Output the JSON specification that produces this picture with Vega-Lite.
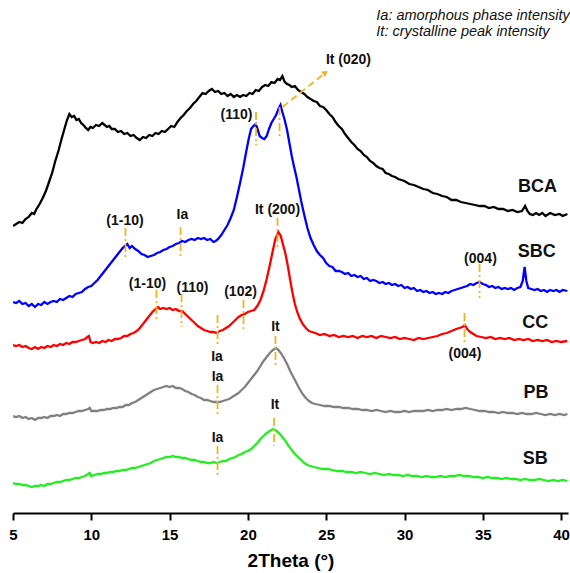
{
"$schema":"https://vega.github.io/schema/vega-lite/v6.json",
"width":555,"height":513,
"autosize":{"type":"none"},
"padding":{"left":13,"top":0,"right":2,"bottom":60},
"background":"white",
"config":{"view":{"stroke":null},"font":"Liberation Sans"},
"datasets":{
"curves":[
{"s":"BCA","x":5.0,"y":287},{"s":"BCA","x":5.2,"y":289},{"s":"BCA","x":5.4,"y":291},{"s":"BCA","x":5.6,"y":290},{"s":"BCA","x":5.8,"y":294},{"s":"BCA","x":6.0,"y":296},{"s":"BCA","x":6.2,"y":300},{"s":"BCA","x":6.35,"y":299},{"s":"BCA","x":6.5,"y":304},{"s":"BCA","x":6.7,"y":309},{"s":"BCA","x":6.9,"y":315},{"s":"BCA","x":7.1,"y":322},{"s":"BCA","x":7.3,"y":331},{"s":"BCA","x":7.5,"y":340},{"s":"BCA","x":7.7,"y":352},{"s":"BCA","x":7.9,"y":362},{"s":"BCA","x":8.1,"y":374},{"s":"BCA","x":8.3,"y":385},{"s":"BCA","x":8.45,"y":393},{"s":"BCA","x":8.6,"y":399},{"s":"BCA","x":8.75,"y":396},{"s":"BCA","x":8.9,"y":397},{"s":"BCA","x":9.05,"y":393},{"s":"BCA","x":9.2,"y":394},{"s":"BCA","x":9.35,"y":390},{"s":"BCA","x":9.5,"y":388},{"s":"BCA","x":9.65,"y":385},{"s":"BCA","x":9.8,"y":383},{"s":"BCA","x":9.95,"y":386},{"s":"BCA","x":10.1,"y":385},{"s":"BCA","x":10.3,"y":388},{"s":"BCA","x":10.5,"y":387},{"s":"BCA","x":10.7,"y":390},{"s":"BCA","x":10.85,"y":388},{"s":"BCA","x":11.0,"y":386},{"s":"BCA","x":11.15,"y":387},{"s":"BCA","x":11.3,"y":384},{"s":"BCA","x":11.5,"y":384},{"s":"BCA","x":11.7,"y":381},{"s":"BCA","x":11.9,"y":382},{"s":"BCA","x":12.1,"y":379},{"s":"BCA","x":12.3,"y":380},{"s":"BCA","x":12.5,"y":377},{"s":"BCA","x":12.7,"y":378},{"s":"BCA","x":12.9,"y":375},{"s":"BCA","x":13.1,"y":373},{"s":"BCA","x":13.3,"y":376},{"s":"BCA","x":13.5,"y":375},{"s":"BCA","x":13.7,"y":378},{"s":"BCA","x":13.9,"y":377},{"s":"BCA","x":14.1,"y":380},{"s":"BCA","x":14.3,"y":379},{"s":"BCA","x":14.5,"y":382},{"s":"BCA","x":14.7,"y":381},{"s":"BCA","x":14.9,"y":384},{"s":"BCA","x":15.1,"y":387},{"s":"BCA","x":15.3,"y":386},{"s":"BCA","x":15.5,"y":391},{"s":"BCA","x":15.7,"y":395},{"s":"BCA","x":15.9,"y":398},{"s":"BCA","x":16.1,"y":402},{"s":"BCA","x":16.3,"y":405},{"s":"BCA","x":16.5,"y":409},{"s":"BCA","x":16.7,"y":412},{"s":"BCA","x":16.9,"y":416},{"s":"BCA","x":17.1,"y":420},{"s":"BCA","x":17.3,"y":419},{"s":"BCA","x":17.5,"y":422},{"s":"BCA","x":17.7,"y":424},{"s":"BCA","x":17.9,"y":421},{"s":"BCA","x":18.1,"y":422},{"s":"BCA","x":18.3,"y":419},{"s":"BCA","x":18.5,"y":420},{"s":"BCA","x":18.7,"y":417},{"s":"BCA","x":18.9,"y":419},{"s":"BCA","x":19.1,"y":416},{"s":"BCA","x":19.3,"y":418},{"s":"BCA","x":19.5,"y":416},{"s":"BCA","x":19.7,"y":418},{"s":"BCA","x":19.9,"y":417},{"s":"BCA","x":20.1,"y":420},{"s":"BCA","x":20.3,"y":419},{"s":"BCA","x":20.5,"y":423},{"s":"BCA","x":20.7,"y":422},{"s":"BCA","x":20.9,"y":426},{"s":"BCA","x":21.1,"y":428},{"s":"BCA","x":21.3,"y":427},{"s":"BCA","x":21.5,"y":431},{"s":"BCA","x":21.7,"y":430},{"s":"BCA","x":21.9,"y":434},{"s":"BCA","x":22.05,"y":433},{"s":"BCA","x":22.2,"y":437},{"s":"BCA","x":22.35,"y":431},{"s":"BCA","x":22.5,"y":429},{"s":"BCA","x":22.65,"y":428},{"s":"BCA","x":22.8,"y":426},{"s":"BCA","x":23.0,"y":427},{"s":"BCA","x":23.2,"y":423},{"s":"BCA","x":23.4,"y":421},{"s":"BCA","x":23.6,"y":419},{"s":"BCA","x":23.8,"y":416},{"s":"BCA","x":24.0,"y":414},{"s":"BCA","x":24.2,"y":412},{"s":"BCA","x":24.4,"y":411},{"s":"BCA","x":24.6,"y":407},{"s":"BCA","x":24.8,"y":406},{"s":"BCA","x":25.0,"y":403},{"s":"BCA","x":25.2,"y":399},{"s":"BCA","x":25.4,"y":396},{"s":"BCA","x":25.6,"y":391},{"s":"BCA","x":25.8,"y":387},{"s":"BCA","x":26.0,"y":384},{"s":"BCA","x":26.2,"y":379},{"s":"BCA","x":26.4,"y":375},{"s":"BCA","x":26.6,"y":371},{"s":"BCA","x":26.8,"y":368},{"s":"BCA","x":27.0,"y":364},{"s":"BCA","x":27.2,"y":362},{"s":"BCA","x":27.4,"y":358},{"s":"BCA","x":27.6,"y":356},{"s":"BCA","x":27.8,"y":352},{"s":"BCA","x":28.0,"y":350},{"s":"BCA","x":28.2,"y":347},{"s":"BCA","x":28.4,"y":345},{"s":"BCA","x":28.6,"y":344},{"s":"BCA","x":28.8,"y":340},{"s":"BCA","x":29.0,"y":339},{"s":"BCA","x":29.2,"y":337},{"s":"BCA","x":29.4,"y":336},{"s":"BCA","x":29.6,"y":334},{"s":"BCA","x":29.8,"y":333},{"s":"BCA","x":30.0,"y":332},{"s":"BCA","x":30.3,"y":329},{"s":"BCA","x":30.6,"y":328},{"s":"BCA","x":30.9,"y":326},{"s":"BCA","x":31.2,"y":324},{"s":"BCA","x":31.5,"y":323},{"s":"BCA","x":31.8,"y":320},{"s":"BCA","x":32.1,"y":319},{"s":"BCA","x":32.4,"y":317},{"s":"BCA","x":32.7,"y":316},{"s":"BCA","x":33.0,"y":313},{"s":"BCA","x":33.3,"y":313},{"s":"BCA","x":33.6,"y":311},{"s":"BCA","x":33.9,"y":310},{"s":"BCA","x":34.2,"y":309},{"s":"BCA","x":34.5,"y":308},{"s":"BCA","x":34.8,"y":307},{"s":"BCA","x":35.1,"y":307},{"s":"BCA","x":35.4,"y":305},{"s":"BCA","x":35.7,"y":306},{"s":"BCA","x":36.0,"y":304},{"s":"BCA","x":36.3,"y":304},{"s":"BCA","x":36.6,"y":302},{"s":"BCA","x":36.9,"y":303},{"s":"BCA","x":37.2,"y":301},{"s":"BCA","x":37.5,"y":302},{"s":"BCA","x":37.7,"y":307},{"s":"BCA","x":37.85,"y":302},{"s":"BCA","x":38.0,"y":299},{"s":"BCA","x":38.2,"y":298},{"s":"BCA","x":38.4,"y":300},{"s":"BCA","x":38.6,"y":298},{"s":"BCA","x":38.8,"y":300},{"s":"BCA","x":39.0,"y":297},{"s":"BCA","x":39.3,"y":300},{"s":"BCA","x":39.6,"y":298},{"s":"BCA","x":39.9,"y":299},{"s":"BCA","x":40.1,"y":297},{"s":"BCA","x":40.4,"y":299},
{"s":"SBC","x":5.0,"y":211},{"s":"SBC","x":5.2,"y":210},{"s":"SBC","x":5.4,"y":212},{"s":"SBC","x":5.6,"y":209},{"s":"SBC","x":5.8,"y":210},{"s":"SBC","x":6.0,"y":207},{"s":"SBC","x":6.2,"y":209},{"s":"SBC","x":6.4,"y":206},{"s":"SBC","x":6.6,"y":209},{"s":"SBC","x":6.8,"y":208},{"s":"SBC","x":7.0,"y":211},{"s":"SBC","x":7.2,"y":209},{"s":"SBC","x":7.4,"y":211},{"s":"SBC","x":7.6,"y":212},{"s":"SBC","x":7.8,"y":211},{"s":"SBC","x":8.0,"y":214},{"s":"SBC","x":8.2,"y":213},{"s":"SBC","x":8.4,"y":215},{"s":"SBC","x":8.6,"y":217},{"s":"SBC","x":8.8,"y":216},{"s":"SBC","x":9.0,"y":219},{"s":"SBC","x":9.2,"y":220},{"s":"SBC","x":9.4,"y":221},{"s":"SBC","x":9.6,"y":224},{"s":"SBC","x":9.8,"y":226},{"s":"SBC","x":10.0,"y":227},{"s":"SBC","x":10.2,"y":230},{"s":"SBC","x":10.4,"y":233},{"s":"SBC","x":10.6,"y":237},{"s":"SBC","x":10.8,"y":241},{"s":"SBC","x":11.0,"y":245},{"s":"SBC","x":11.2,"y":249},{"s":"SBC","x":11.4,"y":253},{"s":"SBC","x":11.6,"y":257},{"s":"SBC","x":11.8,"y":261},{"s":"SBC","x":12.0,"y":265},{"s":"SBC","x":12.15,"y":267},{"s":"SBC","x":12.3,"y":269},{"s":"SBC","x":12.45,"y":265},{"s":"SBC","x":12.6,"y":267},{"s":"SBC","x":12.8,"y":264},{"s":"SBC","x":13.0,"y":262},{"s":"SBC","x":13.2,"y":259},{"s":"SBC","x":13.4,"y":258},{"s":"SBC","x":13.6,"y":256},{"s":"SBC","x":13.8,"y":257},{"s":"SBC","x":14.0,"y":258},{"s":"SBC","x":14.2,"y":260},{"s":"SBC","x":14.4,"y":261},{"s":"SBC","x":14.6,"y":263},{"s":"SBC","x":14.8,"y":264},{"s":"SBC","x":15.0,"y":266},{"s":"SBC","x":15.2,"y":267},{"s":"SBC","x":15.4,"y":269},{"s":"SBC","x":15.6,"y":270},{"s":"SBC","x":15.8,"y":272},{"s":"SBC","x":16.0,"y":271},{"s":"SBC","x":16.2,"y":273},{"s":"SBC","x":16.4,"y":274},{"s":"SBC","x":16.6,"y":273},{"s":"SBC","x":16.8,"y":275},{"s":"SBC","x":17.0,"y":274},{"s":"SBC","x":17.2,"y":275},{"s":"SBC","x":17.4,"y":273},{"s":"SBC","x":17.6,"y":274},{"s":"SBC","x":17.8,"y":271},{"s":"SBC","x":17.95,"y":272},{"s":"SBC","x":18.1,"y":274},{"s":"SBC","x":18.3,"y":278},{"s":"SBC","x":18.5,"y":283},{"s":"SBC","x":18.7,"y":288},{"s":"SBC","x":18.9,"y":295},{"s":"SBC","x":19.1,"y":303},{"s":"SBC","x":19.3,"y":316},{"s":"SBC","x":19.5,"y":330},{"s":"SBC","x":19.7,"y":345},{"s":"SBC","x":19.9,"y":362},{"s":"SBC","x":20.05,"y":374},{"s":"SBC","x":20.2,"y":384},{"s":"SBC","x":20.35,"y":387},{"s":"SBC","x":20.5,"y":389},{"s":"SBC","x":20.6,"y":385},{"s":"SBC","x":20.75,"y":377},{"s":"SBC","x":20.9,"y":375},{"s":"SBC","x":21.05,"y":374},{"s":"SBC","x":21.2,"y":377},{"s":"SBC","x":21.35,"y":384},{"s":"SBC","x":21.5,"y":390},{"s":"SBC","x":21.65,"y":394},{"s":"SBC","x":21.8,"y":398},{"s":"SBC","x":21.95,"y":404},{"s":"SBC","x":22.08,"y":408},{"s":"SBC","x":22.2,"y":401},{"s":"SBC","x":22.35,"y":393},{"s":"SBC","x":22.5,"y":383},{"s":"SBC","x":22.65,"y":370},{"s":"SBC","x":22.8,"y":357},{"s":"SBC","x":22.95,"y":346},{"s":"SBC","x":23.1,"y":336},{"s":"SBC","x":23.25,"y":324},{"s":"SBC","x":23.4,"y":312},{"s":"SBC","x":23.6,"y":298},{"s":"SBC","x":23.8,"y":285},{"s":"SBC","x":24.0,"y":275},{"s":"SBC","x":24.2,"y":268},{"s":"SBC","x":24.4,"y":262},{"s":"SBC","x":24.6,"y":258},{"s":"SBC","x":24.8,"y":255},{"s":"SBC","x":25.0,"y":250},{"s":"SBC","x":25.2,"y":247},{"s":"SBC","x":25.4,"y":246},{"s":"SBC","x":25.6,"y":242},{"s":"SBC","x":25.8,"y":242},{"s":"SBC","x":26.0,"y":241},{"s":"SBC","x":26.2,"y":239},{"s":"SBC","x":26.4,"y":240},{"s":"SBC","x":26.6,"y":237},{"s":"SBC","x":26.8,"y":238},{"s":"SBC","x":27.0,"y":236},{"s":"SBC","x":27.2,"y":237},{"s":"SBC","x":27.4,"y":234},{"s":"SBC","x":27.6,"y":235},{"s":"SBC","x":27.8,"y":232},{"s":"SBC","x":28.0,"y":233},{"s":"SBC","x":28.2,"y":232},{"s":"SBC","x":28.4,"y":230},{"s":"SBC","x":28.6,"y":231},{"s":"SBC","x":28.8,"y":229},{"s":"SBC","x":29.0,"y":230},{"s":"SBC","x":29.2,"y":228},{"s":"SBC","x":29.4,"y":229},{"s":"SBC","x":29.6,"y":227},{"s":"SBC","x":29.8,"y":228},{"s":"SBC","x":30.0,"y":225},{"s":"SBC","x":30.2,"y":226},{"s":"SBC","x":30.4,"y":224},{"s":"SBC","x":30.6,"y":225},{"s":"SBC","x":30.8,"y":222},{"s":"SBC","x":31.0,"y":223},{"s":"SBC","x":31.2,"y":221},{"s":"SBC","x":31.4,"y":222},{"s":"SBC","x":31.6,"y":220},{"s":"SBC","x":31.8,"y":221},{"s":"SBC","x":32.0,"y":219},{"s":"SBC","x":32.2,"y":220},{"s":"SBC","x":32.4,"y":219},{"s":"SBC","x":32.6,"y":221},{"s":"SBC","x":32.8,"y":220},{"s":"SBC","x":33.0,"y":222},{"s":"SBC","x":33.2,"y":223},{"s":"SBC","x":33.4,"y":224},{"s":"SBC","x":33.6,"y":225},{"s":"SBC","x":33.8,"y":226},{"s":"SBC","x":34.0,"y":227},{"s":"SBC","x":34.2,"y":229},{"s":"SBC","x":34.4,"y":228},{"s":"SBC","x":34.6,"y":230},{"s":"SBC","x":34.8,"y":231},{"s":"SBC","x":35.0,"y":229},{"s":"SBC","x":35.2,"y":228},{"s":"SBC","x":35.4,"y":226},{"s":"SBC","x":35.6,"y":227},{"s":"SBC","x":35.8,"y":225},{"s":"SBC","x":36.0,"y":226},{"s":"SBC","x":36.2,"y":224},{"s":"SBC","x":36.4,"y":225},{"s":"SBC","x":36.6,"y":224},{"s":"SBC","x":36.8,"y":225},{"s":"SBC","x":37.0,"y":223},{"s":"SBC","x":37.2,"y":225},{"s":"SBC","x":37.4,"y":226},{"s":"SBC","x":37.55,"y":232},{"s":"SBC","x":37.67,"y":246},{"s":"SBC","x":37.78,"y":232},{"s":"SBC","x":37.9,"y":225},{"s":"SBC","x":38.1,"y":224},{"s":"SBC","x":38.3,"y":223},{"s":"SBC","x":38.5,"y":224},{"s":"SBC","x":38.7,"y":222},{"s":"SBC","x":38.9,"y":223},{"s":"SBC","x":39.1,"y":221},{"s":"SBC","x":39.3,"y":223},{"s":"SBC","x":39.5,"y":222},{"s":"SBC","x":39.7,"y":223},{"s":"SBC","x":39.9,"y":221},{"s":"SBC","x":40.1,"y":223},{"s":"SBC","x":40.4,"y":222},
{"s":"CC","x":5.0,"y":168},{"s":"CC","x":5.2,"y":167},{"s":"CC","x":5.4,"y":168},{"s":"CC","x":5.6,"y":166},{"s":"CC","x":5.8,"y":167},{"s":"CC","x":6.0,"y":165},{"s":"CC","x":6.2,"y":164},{"s":"CC","x":6.4,"y":166},{"s":"CC","x":6.6,"y":164},{"s":"CC","x":6.8,"y":166},{"s":"CC","x":7.0,"y":165},{"s":"CC","x":7.2,"y":167},{"s":"CC","x":7.4,"y":166},{"s":"CC","x":7.6,"y":168},{"s":"CC","x":7.8,"y":167},{"s":"CC","x":8.0,"y":169},{"s":"CC","x":8.2,"y":168},{"s":"CC","x":8.4,"y":170},{"s":"CC","x":8.6,"y":169},{"s":"CC","x":8.8,"y":171},{"s":"CC","x":9.0,"y":171},{"s":"CC","x":9.2,"y":172},{"s":"CC","x":9.4,"y":173},{"s":"CC","x":9.6,"y":174},{"s":"CC","x":9.75,"y":176},{"s":"CC","x":9.85,"y":177},{"s":"CC","x":9.95,"y":171},{"s":"CC","x":10.1,"y":170},{"s":"CC","x":10.3,"y":171},{"s":"CC","x":10.5,"y":170},{"s":"CC","x":10.7,"y":172},{"s":"CC","x":10.9,"y":171},{"s":"CC","x":11.1,"y":173},{"s":"CC","x":11.3,"y":172},{"s":"CC","x":11.5,"y":174},{"s":"CC","x":11.7,"y":174},{"s":"CC","x":11.9,"y":175},{"s":"CC","x":12.1,"y":177},{"s":"CC","x":12.3,"y":177},{"s":"CC","x":12.5,"y":179},{"s":"CC","x":12.7,"y":180},{"s":"CC","x":12.9,"y":182},{"s":"CC","x":13.1,"y":185},{"s":"CC","x":13.3,"y":189},{"s":"CC","x":13.5,"y":193},{"s":"CC","x":13.7,"y":197},{"s":"CC","x":13.9,"y":201},{"s":"CC","x":14.1,"y":204},{"s":"CC","x":14.25,"y":206},{"s":"CC","x":14.4,"y":204},{"s":"CC","x":14.6,"y":205},{"s":"CC","x":14.8,"y":204},{"s":"CC","x":15.0,"y":205},{"s":"CC","x":15.2,"y":203},{"s":"CC","x":15.4,"y":204},{"s":"CC","x":15.6,"y":202},{"s":"CC","x":15.8,"y":202},{"s":"CC","x":16.0,"y":199},{"s":"CC","x":16.2,"y":196},{"s":"CC","x":16.4,"y":193},{"s":"CC","x":16.6,"y":190},{"s":"CC","x":16.8,"y":187},{"s":"CC","x":17.0,"y":185},{"s":"CC","x":17.2,"y":183},{"s":"CC","x":17.4,"y":182},{"s":"CC","x":17.6,"y":181},{"s":"CC","x":17.8,"y":181},{"s":"CC","x":18.0,"y":180},{"s":"CC","x":18.2,"y":182},{"s":"CC","x":18.4,"y":183},{"s":"CC","x":18.6,"y":185},{"s":"CC","x":18.8,"y":187},{"s":"CC","x":19.0,"y":190},{"s":"CC","x":19.2,"y":193},{"s":"CC","x":19.4,"y":196},{"s":"CC","x":19.6,"y":198},{"s":"CC","x":19.8,"y":199},{"s":"CC","x":20.0,"y":201},{"s":"CC","x":20.2,"y":202},{"s":"CC","x":20.4,"y":203},{"s":"CC","x":20.6,"y":207},{"s":"CC","x":20.8,"y":213},{"s":"CC","x":21.0,"y":222},{"s":"CC","x":21.2,"y":234},{"s":"CC","x":21.4,"y":248},{"s":"CC","x":21.6,"y":263},{"s":"CC","x":21.75,"y":274},{"s":"CC","x":21.95,"y":281},{"s":"CC","x":22.1,"y":277},{"s":"CC","x":22.25,"y":268},{"s":"CC","x":22.4,"y":259},{"s":"CC","x":22.55,"y":247},{"s":"CC","x":22.7,"y":233},{"s":"CC","x":22.85,"y":220},{"s":"CC","x":23.0,"y":209},{"s":"CC","x":23.15,"y":201},{"s":"CC","x":23.3,"y":195},{"s":"CC","x":23.5,"y":189},{"s":"CC","x":23.7,"y":185},{"s":"CC","x":23.9,"y":182},{"s":"CC","x":24.1,"y":181},{"s":"CC","x":24.3,"y":180},{"s":"CC","x":24.6,"y":178},{"s":"CC","x":24.9,"y":179},{"s":"CC","x":25.2,"y":177},{"s":"CC","x":25.5,"y":178},{"s":"CC","x":25.8,"y":176},{"s":"CC","x":26.1,"y":177},{"s":"CC","x":26.4,"y":176},{"s":"CC","x":26.7,"y":177},{"s":"CC","x":27.0,"y":175},{"s":"CC","x":27.3,"y":177},{"s":"CC","x":27.6,"y":176},{"s":"CC","x":27.9,"y":177},{"s":"CC","x":28.2,"y":175},{"s":"CC","x":28.5,"y":177},{"s":"CC","x":28.8,"y":176},{"s":"CC","x":29.1,"y":175},{"s":"CC","x":29.4,"y":176},{"s":"CC","x":29.7,"y":174},{"s":"CC","x":30.0,"y":175},{"s":"CC","x":30.3,"y":174},{"s":"CC","x":30.6,"y":173},{"s":"CC","x":30.9,"y":175},{"s":"CC","x":31.2,"y":174},{"s":"CC","x":31.5,"y":175},{"s":"CC","x":31.8,"y":176},{"s":"CC","x":32.1,"y":177},{"s":"CC","x":32.4,"y":179},{"s":"CC","x":32.7,"y":180},{"s":"CC","x":33.0,"y":182},{"s":"CC","x":33.3,"y":184},{"s":"CC","x":33.5,"y":185},{"s":"CC","x":33.7,"y":186},{"s":"CC","x":33.85,"y":188},{"s":"CC","x":34.0,"y":184},{"s":"CC","x":34.2,"y":181},{"s":"CC","x":34.4,"y":179},{"s":"CC","x":34.6,"y":177},{"s":"CC","x":34.9,"y":176},{"s":"CC","x":35.2,"y":175},{"s":"CC","x":35.5,"y":176},{"s":"CC","x":35.8,"y":174},{"s":"CC","x":36.1,"y":175},{"s":"CC","x":36.4,"y":174},{"s":"CC","x":36.7,"y":175},{"s":"CC","x":37.0,"y":173},{"s":"CC","x":37.3,"y":174},{"s":"CC","x":37.6,"y":173},{"s":"CC","x":37.9,"y":174},{"s":"CC","x":38.2,"y":172},{"s":"CC","x":38.5,"y":173},{"s":"CC","x":38.8,"y":172},{"s":"CC","x":39.1,"y":173},{"s":"CC","x":39.4,"y":171},{"s":"CC","x":39.7,"y":172},{"s":"CC","x":40.0,"y":171},{"s":"CC","x":40.4,"y":172},
{"s":"PB","x":5.0,"y":97},{"s":"PB","x":5.2,"y":96},{"s":"PB","x":5.4,"y":97},{"s":"PB","x":5.6,"y":95},{"s":"PB","x":5.8,"y":96},{"s":"PB","x":6.0,"y":94},{"s":"PB","x":6.2,"y":95},{"s":"PB","x":6.4,"y":93},{"s":"PB","x":6.6,"y":95},{"s":"PB","x":6.8,"y":95},{"s":"PB","x":7.0,"y":96},{"s":"PB","x":7.2,"y":95},{"s":"PB","x":7.4,"y":97},{"s":"PB","x":7.6,"y":97},{"s":"PB","x":7.8,"y":98},{"s":"PB","x":8.0,"y":97},{"s":"PB","x":8.2,"y":99},{"s":"PB","x":8.4,"y":99},{"s":"PB","x":8.6,"y":100},{"s":"PB","x":8.8,"y":100},{"s":"PB","x":9.0,"y":101},{"s":"PB","x":9.2,"y":102},{"s":"PB","x":9.4,"y":102},{"s":"PB","x":9.6,"y":103},{"s":"PB","x":9.8,"y":104},{"s":"PB","x":9.9,"y":105},{"s":"PB","x":10.0,"y":102},{"s":"PB","x":10.2,"y":102},{"s":"PB","x":10.4,"y":102},{"s":"PB","x":10.6,"y":103},{"s":"PB","x":10.8,"y":103},{"s":"PB","x":11.0,"y":104},{"s":"PB","x":11.2,"y":104},{"s":"PB","x":11.4,"y":105},{"s":"PB","x":11.6,"y":105},{"s":"PB","x":11.8,"y":106},{"s":"PB","x":12.0,"y":106},{"s":"PB","x":12.2,"y":108},{"s":"PB","x":12.4,"y":108},{"s":"PB","x":12.6,"y":110},{"s":"PB","x":12.8,"y":111},{"s":"PB","x":13.0,"y":113},{"s":"PB","x":13.2,"y":115},{"s":"PB","x":13.4,"y":117},{"s":"PB","x":13.6,"y":119},{"s":"PB","x":13.8,"y":121},{"s":"PB","x":14.0,"y":123},{"s":"PB","x":14.2,"y":124},{"s":"PB","x":14.4,"y":125},{"s":"PB","x":14.6,"y":126},{"s":"PB","x":14.8,"y":127},{"s":"PB","x":15.0,"y":126},{"s":"PB","x":15.2,"y":127},{"s":"PB","x":15.4,"y":125},{"s":"PB","x":15.6,"y":125},{"s":"PB","x":15.8,"y":124},{"s":"PB","x":16.0,"y":122},{"s":"PB","x":16.2,"y":121},{"s":"PB","x":16.4,"y":119},{"s":"PB","x":16.6,"y":118},{"s":"PB","x":16.8,"y":116},{"s":"PB","x":17.0,"y":115},{"s":"PB","x":17.2,"y":113},{"s":"PB","x":17.4,"y":113},{"s":"PB","x":17.6,"y":112},{"s":"PB","x":17.8,"y":111},{"s":"PB","x":18.0,"y":111},{"s":"PB","x":18.2,"y":111},{"s":"PB","x":18.4,"y":112},{"s":"PB","x":18.6,"y":113},{"s":"PB","x":18.8,"y":114},{"s":"PB","x":19.0,"y":116},{"s":"PB","x":19.2,"y":118},{"s":"PB","x":19.4,"y":120},{"s":"PB","x":19.6,"y":123},{"s":"PB","x":19.8,"y":126},{"s":"PB","x":20.0,"y":130},{"s":"PB","x":20.2,"y":134},{"s":"PB","x":20.4,"y":138},{"s":"PB","x":20.6,"y":142},{"s":"PB","x":20.8,"y":147},{"s":"PB","x":21.0,"y":152},{"s":"PB","x":21.2,"y":156},{"s":"PB","x":21.4,"y":160},{"s":"PB","x":21.6,"y":163},{"s":"PB","x":21.8,"y":165},{"s":"PB","x":21.95,"y":163},{"s":"PB","x":22.1,"y":160},{"s":"PB","x":22.3,"y":155},{"s":"PB","x":22.5,"y":149},{"s":"PB","x":22.7,"y":142},{"s":"PB","x":22.9,"y":136},{"s":"PB","x":23.1,"y":130},{"s":"PB","x":23.3,"y":124},{"s":"PB","x":23.5,"y":119},{"s":"PB","x":23.7,"y":115},{"s":"PB","x":23.9,"y":112},{"s":"PB","x":24.1,"y":110},{"s":"PB","x":24.3,"y":109},{"s":"PB","x":24.6,"y":108},{"s":"PB","x":24.9,"y":107},{"s":"PB","x":25.2,"y":107},{"s":"PB","x":25.5,"y":106},{"s":"PB","x":25.8,"y":106},{"s":"PB","x":26.1,"y":105},{"s":"PB","x":26.4,"y":105},{"s":"PB","x":26.7,"y":104},{"s":"PB","x":27.0,"y":104},{"s":"PB","x":27.3,"y":103},{"s":"PB","x":27.6,"y":103},{"s":"PB","x":27.9,"y":102},{"s":"PB","x":28.2,"y":103},{"s":"PB","x":28.5,"y":102},{"s":"PB","x":28.8,"y":101},{"s":"PB","x":29.1,"y":102},{"s":"PB","x":29.4,"y":101},{"s":"PB","x":29.7,"y":101},{"s":"PB","x":30.0,"y":102},{"s":"PB","x":30.3,"y":101},{"s":"PB","x":30.6,"y":102},{"s":"PB","x":30.9,"y":102},{"s":"PB","x":31.2,"y":102},{"s":"PB","x":31.5,"y":103},{"s":"PB","x":31.8,"y":102},{"s":"PB","x":32.1,"y":103},{"s":"PB","x":32.4,"y":103},{"s":"PB","x":32.7,"y":104},{"s":"PB","x":33.0,"y":103},{"s":"PB","x":33.3,"y":104},{"s":"PB","x":33.6,"y":104},{"s":"PB","x":33.9,"y":105},{"s":"PB","x":34.2,"y":104},{"s":"PB","x":34.5,"y":103},{"s":"PB","x":34.8,"y":102},{"s":"PB","x":35.1,"y":102},{"s":"PB","x":35.4,"y":101},{"s":"PB","x":35.7,"y":101},{"s":"PB","x":36.0,"y":100},{"s":"PB","x":36.3,"y":101},{"s":"PB","x":36.6,"y":100},{"s":"PB","x":36.9,"y":100},{"s":"PB","x":37.2,"y":99},{"s":"PB","x":37.5,"y":100},{"s":"PB","x":37.8,"y":99},{"s":"PB","x":38.1,"y":99},{"s":"PB","x":38.4,"y":100},{"s":"PB","x":38.7,"y":99},{"s":"PB","x":39.0,"y":98},{"s":"PB","x":39.3,"y":99},{"s":"PB","x":39.6,"y":98},{"s":"PB","x":39.9,"y":99},{"s":"PB","x":40.2,"y":98},{"s":"PB","x":40.4,"y":99},
{"s":"SB","x":5.0,"y":30},{"s":"SB","x":5.2,"y":29},{"s":"SB","x":5.4,"y":29},{"s":"SB","x":5.6,"y":28},{"s":"SB","x":5.8,"y":28},{"s":"SB","x":6.0,"y":27},{"s":"SB","x":6.2,"y":26},{"s":"SB","x":6.4,"y":27},{"s":"SB","x":6.6,"y":27},{"s":"SB","x":6.8,"y":28},{"s":"SB","x":7.0,"y":27},{"s":"SB","x":7.2,"y":29},{"s":"SB","x":7.4,"y":29},{"s":"SB","x":7.6,"y":30},{"s":"SB","x":7.8,"y":31},{"s":"SB","x":8.0,"y":31},{"s":"SB","x":8.2,"y":32},{"s":"SB","x":8.4,"y":33},{"s":"SB","x":8.6,"y":33},{"s":"SB","x":8.8,"y":34},{"s":"SB","x":9.0,"y":35},{"s":"SB","x":9.2,"y":35},{"s":"SB","x":9.4,"y":36},{"s":"SB","x":9.6,"y":37},{"s":"SB","x":9.8,"y":39},{"s":"SB","x":9.9,"y":40},{"s":"SB","x":10.0,"y":37},{"s":"SB","x":10.2,"y":38},{"s":"SB","x":10.4,"y":39},{"s":"SB","x":10.6,"y":39},{"s":"SB","x":10.8,"y":40},{"s":"SB","x":11.0,"y":40},{"s":"SB","x":11.2,"y":41},{"s":"SB","x":11.4,"y":41},{"s":"SB","x":11.6,"y":42},{"s":"SB","x":11.8,"y":42},{"s":"SB","x":12.0,"y":43},{"s":"SB","x":12.2,"y":43},{"s":"SB","x":12.4,"y":44},{"s":"SB","x":12.6,"y":45},{"s":"SB","x":12.8,"y":45},{"s":"SB","x":13.0,"y":46},{"s":"SB","x":13.2,"y":47},{"s":"SB","x":13.4,"y":48},{"s":"SB","x":13.6,"y":49},{"s":"SB","x":13.8,"y":50},{"s":"SB","x":14.0,"y":52},{"s":"SB","x":14.2,"y":53},{"s":"SB","x":14.4,"y":54},{"s":"SB","x":14.6,"y":55},{"s":"SB","x":14.8,"y":56},{"s":"SB","x":15.0,"y":56},{"s":"SB","x":15.2,"y":57},{"s":"SB","x":15.4,"y":56},{"s":"SB","x":15.6,"y":56},{"s":"SB","x":15.8,"y":55},{"s":"SB","x":16.0,"y":55},{"s":"SB","x":16.2,"y":54},{"s":"SB","x":16.4,"y":53},{"s":"SB","x":16.6,"y":53},{"s":"SB","x":16.8,"y":52},{"s":"SB","x":17.0,"y":51},{"s":"SB","x":17.2,"y":51},{"s":"SB","x":17.4,"y":50},{"s":"SB","x":17.6,"y":50},{"s":"SB","x":17.8,"y":51},{"s":"SB","x":18.0,"y":50},{"s":"SB","x":18.2,"y":51},{"s":"SB","x":18.4,"y":52},{"s":"SB","x":18.6,"y":52},{"s":"SB","x":18.8,"y":54},{"s":"SB","x":19.0,"y":55},{"s":"SB","x":19.2,"y":56},{"s":"SB","x":19.4,"y":58},{"s":"SB","x":19.6,"y":59},{"s":"SB","x":19.8,"y":61},{"s":"SB","x":20.0,"y":62},{"s":"SB","x":20.2,"y":64},{"s":"SB","x":20.4,"y":67},{"s":"SB","x":20.6,"y":70},{"s":"SB","x":20.8,"y":74},{"s":"SB","x":21.0,"y":77},{"s":"SB","x":21.2,"y":80},{"s":"SB","x":21.4,"y":82},{"s":"SB","x":21.6,"y":84},{"s":"SB","x":21.75,"y":83},{"s":"SB","x":21.9,"y":81},{"s":"SB","x":22.05,"y":79},{"s":"SB","x":22.2,"y":76},{"s":"SB","x":22.4,"y":72},{"s":"SB","x":22.6,"y":67},{"s":"SB","x":22.8,"y":63},{"s":"SB","x":23.0,"y":59},{"s":"SB","x":23.2,"y":56},{"s":"SB","x":23.4,"y":53},{"s":"SB","x":23.6,"y":50},{"s":"SB","x":23.8,"y":48},{"s":"SB","x":24.0,"y":47},{"s":"SB","x":24.2,"y":46},{"s":"SB","x":24.5,"y":45},{"s":"SB","x":24.8,"y":44},{"s":"SB","x":25.1,"y":44},{"s":"SB","x":25.4,"y":43},{"s":"SB","x":25.7,"y":42},{"s":"SB","x":26.0,"y":42},{"s":"SB","x":26.3,"y":41},{"s":"SB","x":26.6,"y":41},{"s":"SB","x":26.9,"y":40},{"s":"SB","x":27.2,"y":41},{"s":"SB","x":27.5,"y":40},{"s":"SB","x":27.8,"y":39},{"s":"SB","x":28.1,"y":40},{"s":"SB","x":28.4,"y":39},{"s":"SB","x":28.7,"y":38},{"s":"SB","x":29.0,"y":39},{"s":"SB","x":29.3,"y":38},{"s":"SB","x":29.6,"y":38},{"s":"SB","x":29.9,"y":37},{"s":"SB","x":30.2,"y":38},{"s":"SB","x":30.5,"y":37},{"s":"SB","x":30.8,"y":37},{"s":"SB","x":31.1,"y":36},{"s":"SB","x":31.4,"y":37},{"s":"SB","x":31.7,"y":36},{"s":"SB","x":32.0,"y":36},{"s":"SB","x":32.3,"y":37},{"s":"SB","x":32.6,"y":36},{"s":"SB","x":32.9,"y":37},{"s":"SB","x":33.2,"y":37},{"s":"SB","x":33.5,"y":38},{"s":"SB","x":33.8,"y":37},{"s":"SB","x":34.1,"y":37},{"s":"SB","x":34.4,"y":36},{"s":"SB","x":34.7,"y":36},{"s":"SB","x":35.0,"y":35},{"s":"SB","x":35.3,"y":36},{"s":"SB","x":35.6,"y":35},{"s":"SB","x":35.9,"y":35},{"s":"SB","x":36.2,"y":34},{"s":"SB","x":36.5,"y":35},{"s":"SB","x":36.8,"y":34},{"s":"SB","x":37.1,"y":34},{"s":"SB","x":37.4,"y":33},{"s":"SB","x":37.7,"y":34},{"s":"SB","x":38.0,"y":33},{"s":"SB","x":38.3,"y":33},{"s":"SB","x":38.6,"y":34},{"s":"SB","x":38.9,"y":33},{"s":"SB","x":39.2,"y":32},{"s":"SB","x":39.5,"y":33},{"s":"SB","x":39.8,"y":32},{"s":"SB","x":40.1,"y":33},{"s":"SB","x":40.4,"y":32}
],
"marks":[
{"x":20.52,"y":401,"y2":368},{"x":22.02,"y":406,"y2":375},{"x":12.18,"y":285,"y2":253},{"x":15.7,"y":286,"y2":255},{"x":21.89,"y":295,"y2":263},{"x":34.79,"y":249,"y2":215},{"x":14.16,"y":223,"y2":191},{"x":15.76,"y":219,"y2":186},{"x":19.72,"y":213,"y2":181},{"x":18.06,"y":198,"y2":166},{"x":33.83,"y":200,"y2":170},{"x":21.76,"y":177,"y2":145},{"x":18.06,"y":128,"y2":96},{"x":21.67,"y":95,"y2":67},{"x":18.06,"y":67,"y2":35}
],
"arrow":[{"x":22.21,"y":406,"x2":24.85,"y2":439}],
"head":[{"x":24.95,"y":440.5}],
"peaklabels":[
{"x":19.27,"y":398,"t":"(110)"},{"x":26.42,"y":453,"t":"It (020)"},{"x":12.15,"y":292,"t":"(1-10)"},{"x":15.82,"y":298,"t":"Ia"},{"x":21.89,"y":303,"t":"It (200)"},{"x":34.85,"y":254,"t":"(004)"},{"x":13.59,"y":229,"t":"(1-10)"},{"x":16.46,"y":225,"t":"(110)"},{"x":19.53,"y":221,"t":"(102)"},{"x":18.03,"y":156,"t":"Ia"},{"x":33.86,"y":159,"t":"(004)"},{"x":21.76,"y":186,"t":"It"},{"x":18.06,"y":136,"t":"Ia"},{"x":21.73,"y":108,"t":"It"},{"x":18.06,"y":75,"t":"Ia"}
],
"names":[
{"x":38.5,"y":326,"t":"BCA"},{"x":38.44,"y":261,"t":"SBC"},{"x":38.35,"y":190,"t":"CC"},{"x":38.4,"y":120,"t":"PB"},{"x":38.35,"y":54,"t":"SB"}
],
"notes":[
{"x":28.2,"y":497,"t":"Ia: amorphous phase intensity"},{"x":28.2,"y":481,"t":"It: crystalline peak intensity"}
]
},
"layer":[
{"data":{"name":"curves"},"mark":{"type":"line","strokeWidth":2.3,"clip":true},
"encoding":{
"x":{"field":"x","type":"quantitative","scale":{"domain":[5,40.44],"nice":false,"zero":false},
"axis":{"title":"2Theta (°)","values":[5,7.5,10,12.5,15,17.5,20,22.5,25,27.5,30,32.5,35,37.5,40],
"labelExpr":"datum.value % 5 === 0 ? datum.label : ''","grid":false,"domainColor":"black","domainWidth":2,"tickColor":"black","tickWidth":2,
"tickSize":{"condition":{"test":"datum.value % 5 === 0","value":7},"value":4},
"labelFont":"Liberation Sans","labelFontSize":15,"labelFontWeight":"bold","labelColor":"black","labelPadding":7,"labelFlush":false,"labelOverlap":false,
"titleFont":"Liberation Sans","titleFontSize":19,"titleFontWeight":"bold","titleColor":"black","titlePadding":9}},
"y":{"field":"y","type":"quantitative","scale":{"domain":[0,513],"nice":false,"zero":false},"axis":null},
"color":{"field":"s","type":"nominal","scale":{"domain":["BCA","SBC","CC","PB","SB"],"range":["#000000","#0000ff","#ff0000","#808080","#22ee22"]},"legend":null}
}},
{"data":{"name":"marks"},"mark":{"type":"rule","color":"#f5b223","strokeWidth":1.8,"strokeDash":[8,3,2,3]},
"encoding":{"x":{"field":"x","type":"quantitative"},"y":{"field":"y","type":"quantitative"},"y2":{"field":"y2"}}},
{"data":{"name":"arrow"},"mark":{"type":"rule","color":"#f5b223","strokeWidth":1.8,"strokeDash":[7,4]},
"encoding":{"x":{"field":"x","type":"quantitative"},"y":{"field":"y","type":"quantitative"},"x2":{"field":"x2"},"y2":{"field":"y2"}}},
{"data":{"name":"head"},"mark":{"type":"point","shape":"triangle-up","filled":true,"color":"#f5b223","size":45,"angle":52,"opacity":1},
"encoding":{"x":{"field":"x","type":"quantitative"},"y":{"field":"y","type":"quantitative"}}},
{"data":{"name":"peaklabels"},"mark":{"type":"text","font":"Liberation Sans","fontSize":14,"fontWeight":"bold","color":"#111111","align":"center","baseline":"middle"},
"encoding":{"x":{"field":"x","type":"quantitative"},"y":{"field":"y","type":"quantitative"},"text":{"field":"t"}}},
{"data":{"name":"names"},"mark":{"type":"text","font":"Liberation Sans","fontSize":18,"fontWeight":"bold","color":"#111111","align":"center","baseline":"middle"},
"encoding":{"x":{"field":"x","type":"quantitative"},"y":{"field":"y","type":"quantitative"},"text":{"field":"t"}}},
{"data":{"name":"notes"},"mark":{"type":"text","font":"Liberation Sans","fontSize":14.5,"fontStyle":"italic","color":"#111111","align":"left","baseline":"middle"},
"encoding":{"x":{"field":"x","type":"quantitative"},"y":{"field":"y","type":"quantitative"},"text":{"field":"t"}}}
]
}
